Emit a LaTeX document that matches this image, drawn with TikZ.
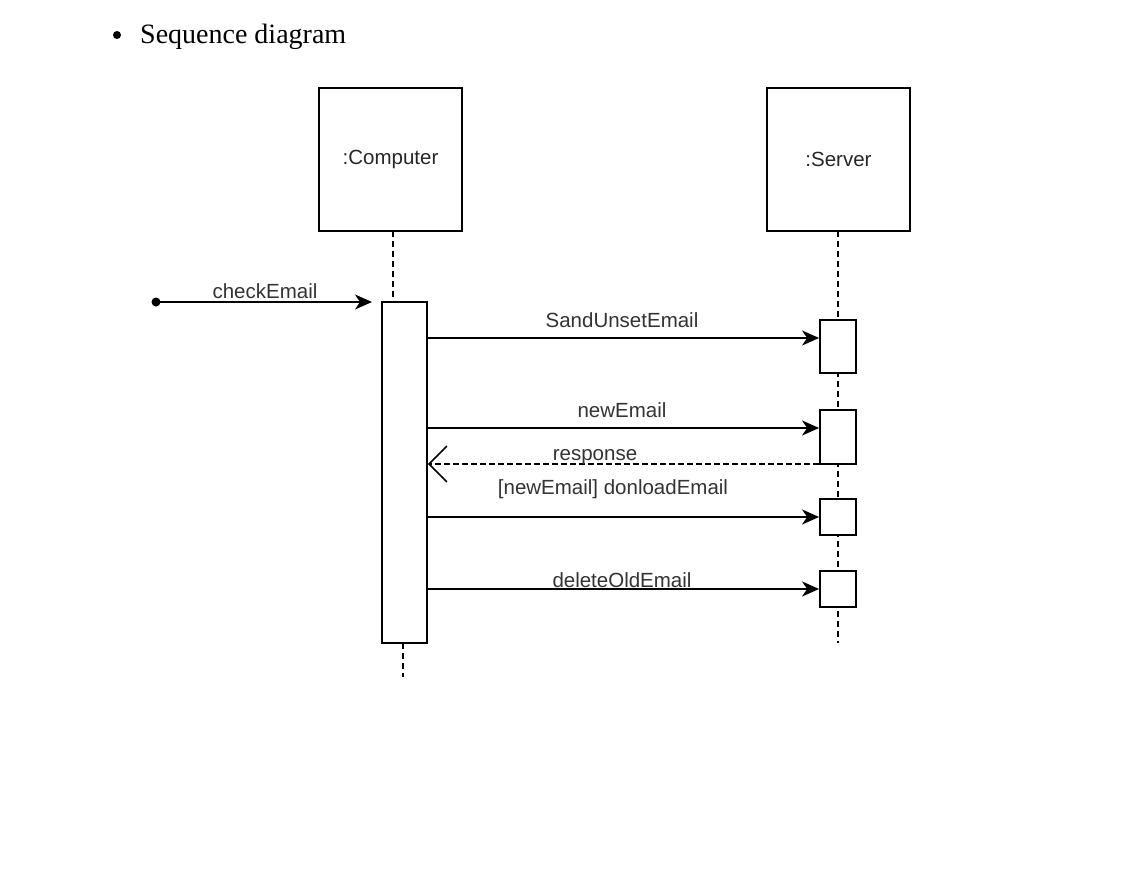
\documentclass[tikz,border=0pt]{standalone}
\usepackage{fontspec}
\setmainfont{Liberation Serif}
\newfontfamily\lblfont{Liberation Sans}
\usetikzlibrary{arrows.meta}
\begin{document}
\begin{tikzpicture}[x=1pt,y=-1pt,
  objbox/.style={draw,line width=1.8pt,minimum width=143pt,minimum height=143pt,inner sep=0pt,font=\lblfont\fontsize{20.5}{24}\selectfont,text=black!85},
  actbox/.style={draw,line width=1.8pt,fill=white,inner sep=0pt},
  lifeline/.style={line width=1.5pt,dash pattern=on 6pt off 4pt},
  msg/.style={line width=1.8pt,-{Stealth[length=17pt,width=15pt,inset=5pt]}},
  reply/.style={line width=1.5pt,dash pattern=on 6pt off 3pt,-{Straight Barb[length=18pt,width=36pt,line width=1.5pt]}},
  lbl/.style={font=\lblfont\fontsize{20.5}{24}\selectfont,text=black!80,inner sep=0pt}]
\useasboundingbox (0,0) rectangle (1123,885);
% heading
\node[circle,fill=black,inner sep=0pt,minimum size=8pt] (bul) at (117,35) {};
\node[anchor=base west,inner sep=0pt,font=\fontsize{28}{32}\selectfont] (head) at (140,44) {Sequence diagram};
% objects
\node[objbox] (comp) at (390.5,159.5) {:Computer};
\node[objbox] (serv) at (838.5,159.5) {:Server};
% computer activation
\node[actbox,minimum width=45pt,minimum height=341pt] (cact) at (404.5,472.5) {};
\coordinate (cl1) at (393,231);
\coordinate (cl2) at (393,302);
\coordinate (cl3) at (403,643);
\coordinate (cl4) at (403,677);
\draw[lifeline] (cl1) -- (cl2);
\draw[lifeline] (cl3) -- (cl4);
% server lifeline
\coordinate (sl1) at (838,231);
\coordinate (sl2) at (838,643);
\draw[lifeline] (sl1) -- (sl2);
% server activations
\node[actbox,minimum width=36pt,minimum height=53pt] (sa1) at (838,346.5) {};
\node[actbox,minimum width=36pt,minimum height=54pt] (sa2) at (838,437) {};
\node[actbox,minimum width=36pt,minimum height=36pt] (sa3) at (838,517) {};
\node[actbox,minimum width=36pt,minimum height=36pt] (sa4) at (838,589) {};
% found message
\node[circle,fill=black,inner sep=0pt,minimum size=9pt] (start) at (156,302) {};
\coordinate (ce) at (372,302);
\draw[msg] (start.center) -- (ce);
\node[lbl,anchor=base] (lce) at (265,298) {checkEmail};
% messages
\draw[msg] (cact.east |- 0,338) -- (sa1.west |- 0,338);
\node[lbl,anchor=base] (l1) at (622,327) {SandUnsetEmail};
\draw[msg] (cact.east |- 0,428) -- (sa2.west |- 0,428);
\node[lbl,anchor=base] (l2) at (622,417) {newEmail};
\draw[reply] (sa2.west |- 0,464) -- (cact.east |- 0,464);
\node[lbl,anchor=base] (l3) at (595,460) {response};
\draw[msg] (cact.east |- 0,517) -- (sa3.west |- 0,517);
\node[lbl,anchor=base] (l4) at (613,494) {[newEmail] donloadEmail};
\draw[msg] (cact.east |- 0,589) -- (sa4.west |- 0,589);
\node[lbl,anchor=base] (l5) at (622,587) {deleteOldEmail};
\end{tikzpicture}
\end{document}
